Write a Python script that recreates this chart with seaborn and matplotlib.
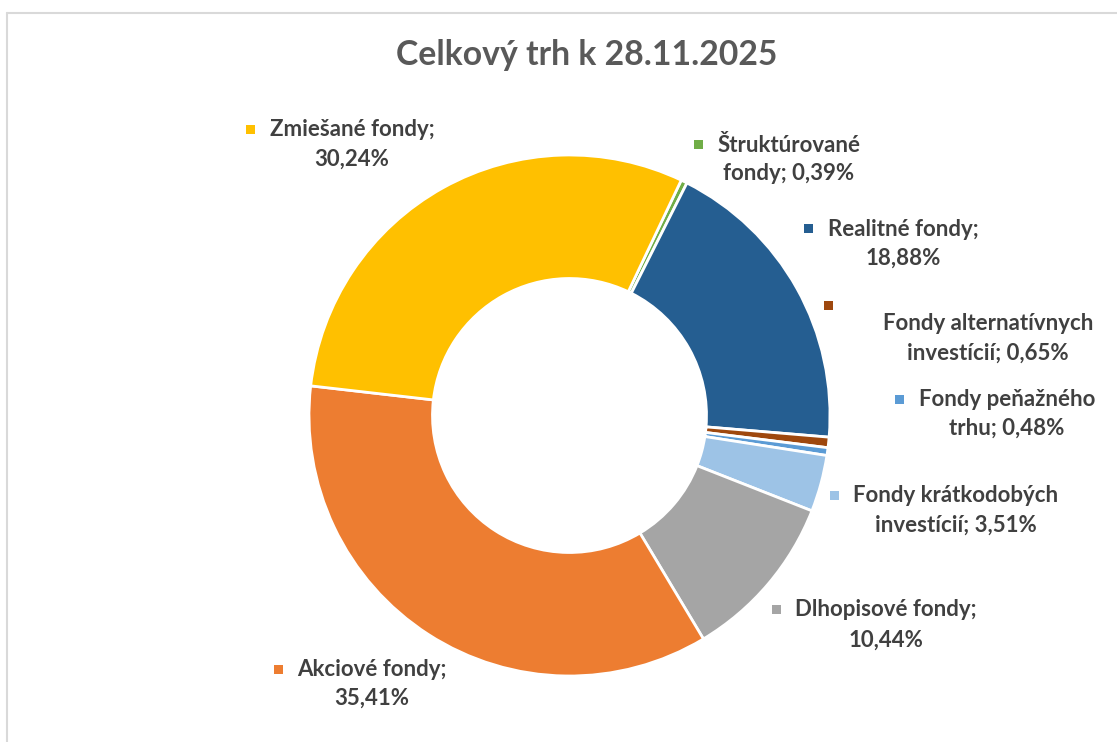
import matplotlib
matplotlib.use("Agg")
import matplotlib.pyplot as plt
from matplotlib.patches import Rectangle
from matplotlib.lines import Line2D
import seaborn as sns

# ---- data (clockwise from the top-right) ----
categories = ["Štruktúrované fondy", "Realitné fondy", "Fondy alternatívnych investícií",
              "Fondy peňažného trhu", "Fondy krátkodobých investícií", "Dlhopisové fondy",
              "Akciové fondy", "Zmiešané fondy"]
values = [0.39, 18.88, 0.65, 0.48, 3.51, 10.44, 35.41, 30.24]
label_lines = [
    ("Štruktúrované", "fondy; 0,39%"),
    ("Realitné fondy;", "18,88%"),
    ("Fondy alternatívnych", "investícií; 0,65%"),
    ("Fondy peňažného", "trhu; 0,48%"),
    ("Fondy krátkodobých", "investícií; 3,51%"),
    ("Dlhopisové fondy;", "10,44%"),
    ("Akciové fondy;", "35,41%"),
    ("Zmiešané fondy;", "30,24%"),
]
title = "Celkový trh k 28.11.2025"

# ---- styles / layout ----
colors = ["#70AD47", "#255E91", "#9E480E", "#5B9BD5", "#9DC3E6", "#A5A5A5", "#ED7D31", "#FFC000"]
# (text centre x, line1 y, line2 y, marker position or None -> inline) in pixel coords from top
label_pos = [
    (789, 145, 173, None),
    (903, 229, 258, None),
    (988, 323, 353, (828, 305)),
    (1007, 400, 428, None),
    (956, 496, 525, None),
    (886, 610, 640, None),
    (372, 670, 698, None),
    (352, 130, 159, None),
]

sns.set_theme(style="white")
plt.rcParams['font.family'] = ['Lato', 'DejaVu Sans']

W, H = 1117, 742
fig = plt.figure(figsize=(W / 100, H / 100), dpi=100)
fig.patch.set_facecolor("white")
ax = fig.add_axes([0, 0, 1, 1])

cx, cy, R = 569.5, 415.5, 260.5
ax.pie(values, colors=colors, startangle=90 - 25.4, counterclock=False,
       radius=R, center=(cx, H - cy),
       wedgeprops=dict(width=123.5, edgecolor="white", linewidth=2))
ax.set_xlim(0, W)
ax.set_ylim(0, H)
ax.set_aspect("equal")
ax.axis("off")

# chart border (left and top visible)
ax.add_line(Line2D([7, 7], [0, H - 13], color="#D9D9D9", lw=1.5))
ax.add_line(Line2D([7, W], [H - 13, H - 13], color="#D9D9D9", lw=1.5))

ax.text(587, H - 55, title, ha="center", va="center", fontsize=24.3,
        fontweight="bold", color="#595959")

fs = 16
txt_color = "#404040"
first_lines = []
for (l1, l2), (x, y1, y2, mpos), col in zip(label_lines, label_pos, colors):
    t1 = ax.text(x, H - y1, l1, ha="center", va="center", fontsize=fs,
                 fontweight="bold", color=txt_color)
    ax.text(x, H - y2, l2, ha="center", va="center", fontsize=fs,
            fontweight="bold", color=txt_color)
    first_lines.append((t1, mpos, col, y1))

fig.canvas.draw()
renderer = fig.canvas.get_renderer()
inv = ax.transData.inverted()
ms = 9
for t1, mpos, col, y1 in first_lines:
    if mpos is None:
        bb = t1.get_window_extent(renderer)
        left = inv.transform((bb.x0, bb.y0))[0]
        mx, my = left - 19, y1 - 1
    else:
        mx, my = mpos
    ax.add_patch(Rectangle((mx - ms / 2, H - my - ms / 2), ms, ms,
                           facecolor=col, edgecolor="none"))

fig.savefig("out.png", dpi=100, facecolor="white")
